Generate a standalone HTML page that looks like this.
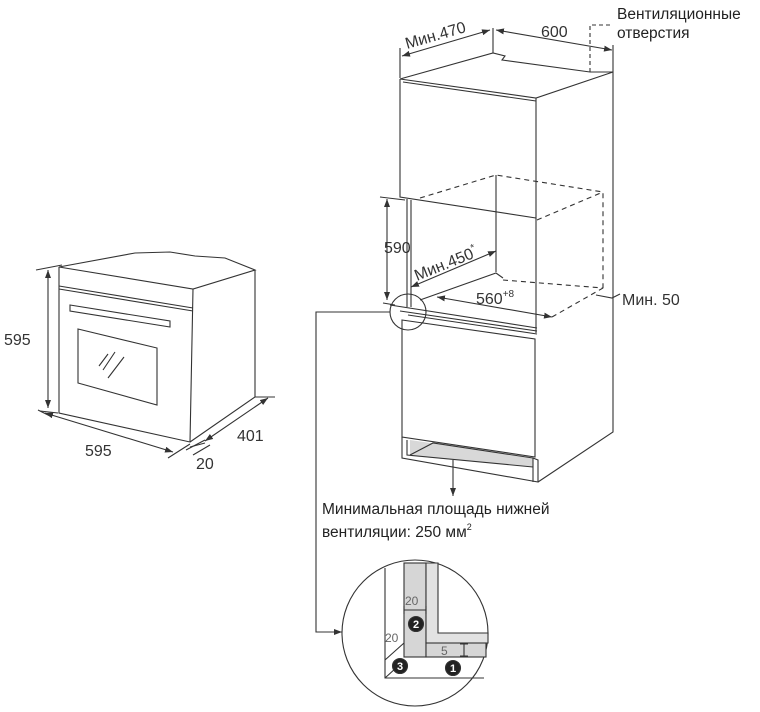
<!DOCTYPE html>
<html><head><meta charset="utf-8"><style>
html,body{margin:0;padding:0;background:#fff;}
svg{display:block;font-family:"Liberation Sans",sans-serif;}
</style></head><body>
<svg width="760" height="712" viewBox="0 0 760 712" xmlns="http://www.w3.org/2000/svg">
<defs>
<marker id="a" markerWidth="8" markerHeight="6" refX="8" refY="3" orient="auto" markerUnits="userSpaceOnUse"><path d="M0,0 L8,3 L0,6 z" fill="#333"/></marker>
<marker id="b" markerWidth="8" markerHeight="6" refX="0" refY="3" orient="auto" markerUnits="userSpaceOnUse"><path d="M8,0 L0,3 L8,6 z" fill="#333"/></marker>
</defs>
<polygon points="410,440 533,458 533,467 410,456" fill="#d8d8d8"/>
<g fill="none" stroke="#333" stroke-width="1.1">
<!-- left oven -->
<path d="M59,267 L135,253 L170,252 L195,256 L225,258 L255,270 L193,289 Z"/>
<path d="M59,267 L59,413 L190,442 L193,289"/>
<path d="M255,270 L255,397 L190,442"/>
<path d="M59,286 L193,308"/>
<path d="M59,289 L193,311"/>
<path d="M70,305 L170,321 L170,327 L70,311 Z"/>
<path d="M78,329 L157,348 L157,405 L78,383 Z"/>
<path d="M103,370 L115,352 M108,378 L124,357 M99,366 L108,354"/>
<!-- dims left -->
<path d="M48,270 L48,408" marker-start="url(#b)" marker-end="url(#a)"/>
<path d="M36,270 L62,265 M40,411 L58,413"/>
<path d="M45,413 L173,452" marker-start="url(#b)" marker-end="url(#a)"/>
<path d="M38,410 L50,416 M168,458 L190,444"/>
<path d="M205,441 L268,398" marker-start="url(#b)" marker-end="url(#a)"/>
<path d="M190,447 L205,443 M255,397 L275,397"/>
<path d="M193,455 L210,445 M186,450 L205,440"/>
<!-- right cabinet top -->
<path d="M400,79 L493,53 L505,56 L502,60 L590,72 L613,72 L536,98 Z"/>
<path d="M400,79 L400,197 L536,218 L536,98"/>
<path d="M403,82 L536,101"/>
<path d="M536,218 L536,333"/>
<path d="M613,72 L613,432 L538,482"/>
<!-- dim top -->
<path d="M400,78 L400,48 M493,53 L493,28 M613,72 L613,45"/>
<path d="M402,56 L490,30" marker-start="url(#b)" marker-end="url(#a)"/>
<path d="M496,30 L612,50" marker-start="url(#b)" marker-end="url(#a)"/>
<path d="M590,72 L590,25 L612,25" stroke-dasharray="4,3"/>
<!-- niche -->
<path d="M407,199 L407,307 M411,200 L411,307"/>
<path d="M420,198 L496,175 L603,192 L603,290" stroke-dasharray="5,4"/>
<path d="M496,175 L496,272"/>
<path d="M537,220 L603,192" stroke-dasharray="5,4"/>
<path d="M503,280 L603,288 M552,317 L603,288" stroke-dasharray="5,4"/>
<path d="M420,300 L496,273 L503,278"/>
<path d="M411,287 L496,251" marker-start="url(#b)" marker-end="url(#a)"/>
<path d="M437,297 L552,317" marker-start="url(#b)" marker-end="url(#a)"/>
<path d="M596,295 L612,298 L620,294"/>
<path d="M387,199 L387,300" marker-start="url(#b)" marker-end="url(#a)"/>
<path d="M380,197 L405,200 M383,303 L395,305"/>
<!-- lower cabinet -->
<path d="M390,305 L537,328 M400,311 L537,331 M408,315 L537,334"/>
<path d="M402,320 L535,339 L535,457 L402,437 Z"/>
<path d="M402,437 L402,458 L538,482 L538,460 L533,458"/>
<path d="M407,440 L407,455 L533,467"/>
<path d="M410,455 L433,443 L533,458"/>
<path d="M533,458 L533,482"/>
<circle cx="408" cy="312" r="18"/>
<path d="M390,312 L316,312 L316,632 L342,632" marker-end="url(#a)"/>
<path d="M453,460 L453,496" marker-end="url(#a)"/>
<!-- detail -->
<circle cx="415" cy="633" r="73"/>
</g>
<g stroke="#333" stroke-width="1.1">
<rect x="404" y="563" width="22" height="94" fill="#d6d6d6"/>
<path d="M426,563 L438,563 L438,633 L488,633 L488,643 L426,643 Z" fill="#e2e2e2"/>
<rect x="426" y="643" width="60" height="14" fill="#d6d6d6"/>
<path d="M385,568 L385,678 L484,678 M385,660 L404,643 M385,678 L396,668 M404,610 L426,610 M404,606 L404,614 M426,606 L426,614 M464,644 L464,656 M460,644 L468,644 M460,656 L468,656" fill="none"/>
<circle cx="416" cy="624" r="7.5" fill="#222"/>
<circle cx="400" cy="666" r="7.5" fill="#222"/>
<circle cx="453" cy="668" r="7.5" fill="#222"/>
</g>
<g fill="#fff" font-size="11" font-weight="bold" text-anchor="middle">
<text x="416" y="628">2</text><text x="400" y="670">3</text><text x="453" y="672">1</text>
</g>
<g fill="#666" font-size="12">
<text x="405" y="605">20</text><text x="385" y="642">20</text><text x="441" y="655">5</text>
</g>
<g fill="#333" font-size="16">
<text x="4" y="345">595</text>
<text x="85" y="456">595</text>
<text x="237" y="441">401</text>
<text x="196" y="469">20</text>
<text x="384" y="253">590</text>
<text x="541" y="37">600</text>
<text x="622" y="305">Мин. 50</text>
<text x="476" y="304">560<tspan font-size="10" dy="-7">+8</tspan></text>
<text x="407" y="49" transform="rotate(-16 407 49)">Мин.470</text>
<text x="417" y="281" transform="rotate(-22 417 281)">Мин.450<tspan font-size="10" dy="-7">*</tspan></text>
</g>
<g fill="#222" font-size="15.5">
<text x="617" y="19">Вентиляционные</text>
<text x="617" y="38">отверстия</text>
<text x="322" y="514">Минимальная площадь нижней</text>
<text x="322" y="537">вентиляции: 250 мм<tspan font-size="9" dy="-7">2</tspan></text>
</g>
</svg>
</body></html>
